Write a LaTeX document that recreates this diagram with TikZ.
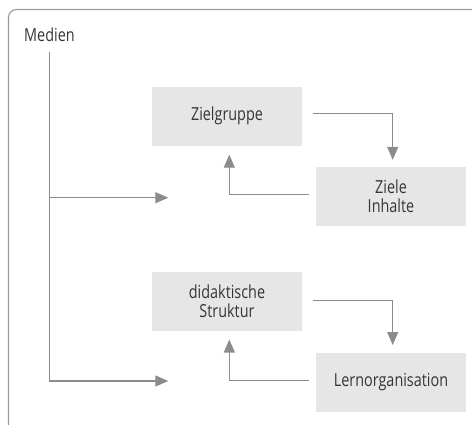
\documentclass[tikz,border=0pt]{standalone}
\usepackage{fontspec}
\setmainfont{Open Sans}[FakeStretch=0.8]
\usetikzlibrary{arrows.meta}
\definecolor{linegray}{HTML}{8C8C8C}
\definecolor{framegray}{HTML}{9A9A9A}
\definecolor{boxgray}{HTML}{E6E6E6}
\definecolor{textgray}{HTML}{363636}
\tikzset{
  boxnode/.style={fill=boxgray, draw=none, minimum width=150pt, minimum height=59pt,
    inner sep=0pt, align=center, text=textgray, font=\fontsize{18}{19}\selectfont},
  conn/.style={draw=linegray, line width=1.2pt},
  arr/.style={conn, -{Triangle[length=13pt,width=11pt,fill=linegray]}},
}
\begin{document}
\begin{tikzpicture}[x=1pt,y=-1pt]
\useasboundingbox (0,0) rectangle (472,424);
% frame
\draw[framegray, line width=1.1pt, rounded corners=8pt] (8.5,430) -- (8.5,9.5) -- (480,9.5);
% title
\node[anchor=base west, inner sep=0pt, text=textgray, font=\fontsize{18}{19}\selectfont] (medien) at (24,41.7) {Medien};
% boxes
\node[boxnode] (zg) at (227,116) {Zielgruppe};
\node[boxnode] (zi) at (391,196.5) {Ziele\\Inhalte};
\node[boxnode] (ds) at (227,301.2) {didaktische\\Struktur};
\node[boxnode] (lo) at (391,382) {Lernorganisation};
% Medien connectors
\coordinate (m0) at (49.3,52);
\coordinate (m1) at (49.3,197.7);
\coordinate (m2) at (49.3,381);
\coordinate (t1) at (168.3,197.7);
\coordinate (t2) at (168.3,381);
\draw[conn] (m0) -- (m2);
\draw[arr] (m1) -- (t1);
\draw[arr] (m2) -- (t2);
% upper loop
\draw[arr] ([xshift=10.7pt,yshift=2.3pt]zg.east) -| ([xshift=1.7pt,yshift=7pt]zi.north);
\draw[arr] ([xshift=-6.7pt,yshift=1.8pt]zi.west) -| ([xshift=2.3pt,yshift=-9pt]zg.south);
% lower loop
\draw[arr] ([xshift=10.3pt,yshift=0.5pt]ds.east) -| ([xshift=1.7pt,yshift=7.3pt]lo.north);
\draw[arr] ([xshift=-7pt,yshift=1.3pt]lo.west) -| ([xshift=2.3pt,yshift=-8.6pt]ds.south);
\end{tikzpicture}
\end{document}
